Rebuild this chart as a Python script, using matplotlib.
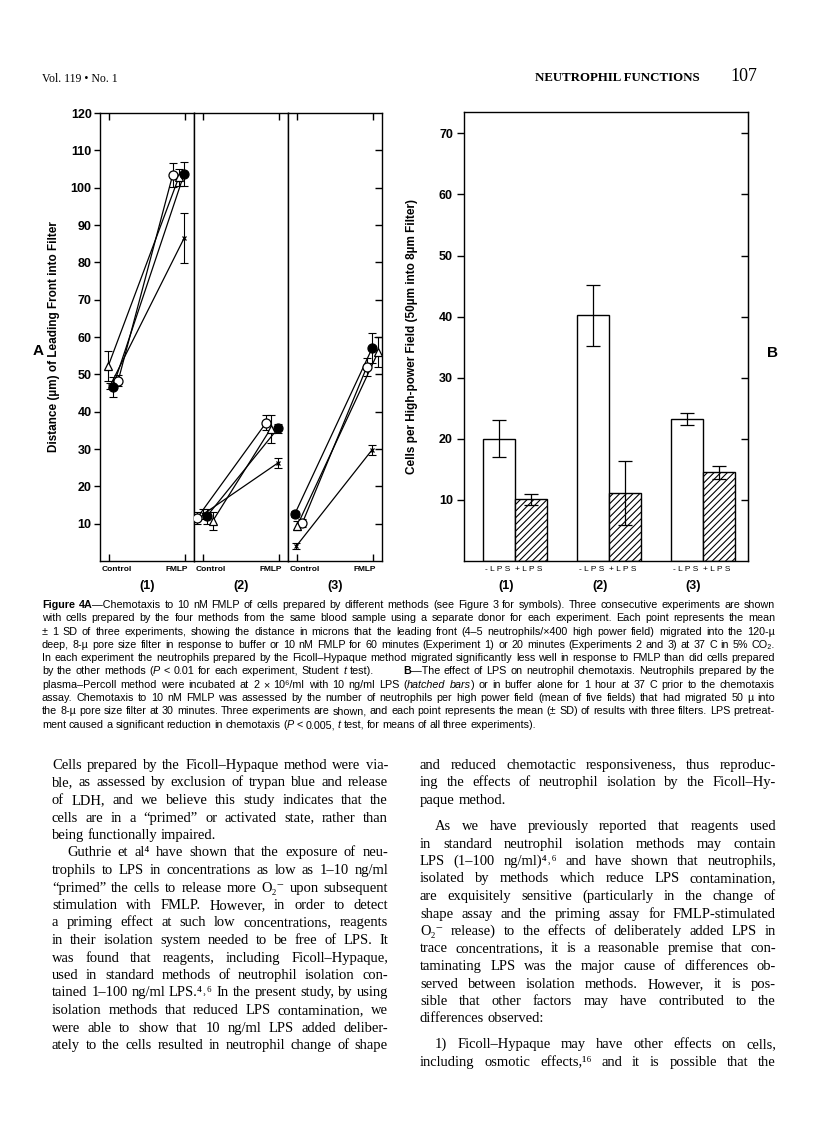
import re

import numpy as np
import matplotlib
matplotlib.use("Agg")
import matplotlib.pyplot as plt
import matplotlib.transforms as mtransforms

W, H = 816, 1145

# ---- panel A: distance (um) of leading front, 3 experiments ----
# series order: open circle, open triangle, filled circle, x  (see Figure 3)
ctrl_mean = [[48.3, 52.3, 46.6, 46.8], [11.5, 10.8, 12.0, 12.5], [10.2, 9.4, 12.6, 4.0]]
ctrl_sd = [[1.5, 4.0, 2.6, 0.8], [1.5, 2.4, 2.0, 1.3], [1.0, 1.2, 0.8, 0.8]]
fmlp_mean = [[103.5, 102.8, 103.7, 86.5], [37.0, 35.4, 35.6, 26.3], [52.0, 56.0, 57.0, 29.8]]
fmlp_sd = [[3.2, 2.3, 3.2, 6.8], [2.0, 3.8, 1.2, 1.3], [2.5, 4.0, 4.0, 1.4]]
# small horizontal shifts so symbols don't sit on top of each other
ctrl_shift = [[0.12, -0.01, 0.05, 0.01], [-0.08, 0.13, 0.05, 0.0], [0.07, 0.0, -0.03, -0.01]]
fmlp_shift = [[-0.16, -0.08, -0.01, -0.01], [-0.17, -0.11, -0.01, -0.01], [-0.08, 0.07, -0.01, -0.01]]
exp_labels = ["(1)", "(2)", "(3)"]

# ---- panel B: cells per high power field ----
groups = [1, 2, 3]
minus_lps = [20.0, 40.2, 23.3]
minus_sd = [3.0, 5.0, 1.0]
plus_lps = [10.1, 11.1, 14.5]
plus_sd = [0.9, 5.2, 1.0]

SANS = ["Liberation Sans", "DejaVu Sans"]
SERIF = ["Liberation Serif", "DejaVu Serif"]

plt.rcParams["hatch.linewidth"] = 0.8
plt.rcParams["font.family"] = SANS


def fx(x):
    return x / W


def fy(y):
    return 1 - y / H


def box(x0, y0, x1, y1):
    return [fx(x0), fy(y1), (x1 - x0) / W, (y1 - y0) / H]


fig = plt.figure(figsize=(W / 100, H / 100), dpi=100)
fig.patch.set_facecolor("white")

# ---------------- figure A ----------------
edges = [100, 194, 288, 382]
styles = [dict(marker="o", mfc="white", ms=6.5),
          dict(marker="^", mfc="white", ms=6),
          dict(marker="o", mfc="black", ms=6.5),
          dict(marker="x", mfc="black", ms=3.5)]

for p in range(3):
    ax = fig.add_axes(box(edges[p], 113, edges[p + 1], 561))
    ax.set_xlim(-0.12, 1.12)
    ax.set_ylim(0, 120)
    for s in ax.spines.values():
        s.set_linewidth(1.0)
    for k in range(4):
        xs = [0 + ctrl_shift[p][k], 1 + fmlp_shift[p][k]]
        ys = [ctrl_mean[p][k], fmlp_mean[p][k]]
        es = [ctrl_sd[p][k], fmlp_sd[p][k]]
        ax.plot(xs, ys, color="black", lw=0.9, zorder=2)
        ax.errorbar(xs, ys, yerr=es, fmt="none", ecolor="black", elinewidth=0.8,
                    capsize=3, capthick=0.8, zorder=3)
        ax.plot(xs, ys, ls="none", color="black", mec="black", mew=0.9, zorder=4, **styles[k])
    ax.set_xticks([0, 1])
    ax.tick_params(axis="x", which="both", direction="in", top=True, bottom=True,
                   labelbottom=False, length=5, width=1.0)
    if p == 0:
        ax.set_yticks(np.arange(10, 121, 10))
        ax.tick_params(axis="y", direction="out", length=4, width=1.0, pad=2,
                       labelsize=9)
        for lab in ax.get_yticklabels():
            lab.set_fontweight("bold")
        ax.set_ylabel("Distance (µm) of Leading Front into Filter", fontsize=8.5,
                      fontweight="bold", labelpad=8)
    elif p == 1:
        ax.set_yticks([])
    else:
        ax.set_yticks(np.arange(10, 111, 10))
        ax.tick_params(axis="y", left=False, right=True, labelleft=False,
                       direction="in", length=5, width=1.0)
    tr = mtransforms.blended_transform_factory(ax.transData, ax.transAxes)
    ax.text(0.105, -0.018, "Control", transform=tr, ha="center", va="center",
            fontsize=6, fontweight="bold")
    ax.text(0.895, -0.018, "FMLP", transform=tr, ha="center", va="center",
            fontsize=6, fontweight="bold")
    ax.text(0.5, -0.056, exp_labels[p], transform=tr, ha="center", va="center",
            fontsize=9, fontweight="bold")

# ---------------- figure B ----------------
axb = fig.add_axes(box(464, 112, 748, 561))
axb.set_xlim(0.457, 3.479)
axb.set_ylim(0, 73.5)
for s in axb.spines.values():
    s.set_linewidth(1.0)
bw = 0.34
xm = [g - bw / 2 for g in groups]
xp = [g + bw / 2 for g in groups]
axb.bar(xm, minus_lps, width=bw, color="white", edgecolor="black", lw=1.0)
axb.bar(xp, plus_lps, width=bw, color="white", edgecolor="black", lw=1.0, hatch="/////")
axb.errorbar(xm, minus_lps, yerr=minus_sd, fmt="none", ecolor="black", elinewidth=0.9,
             capsize=5, capthick=0.9)
axb.errorbar(xp, plus_lps, yerr=plus_sd, fmt="none", ecolor="black", elinewidth=0.9,
             capsize=5, capthick=0.9)
axb.set_xticks([])
axb.set_yticks(np.arange(10, 71, 10))
axb.tick_params(axis="y", direction="out", length=5, width=1.0, pad=3, labelsize=9)
for lab in axb.get_yticklabels():
    lab.set_fontweight("bold")
axb.set_ylabel("Cells per High-power Field (50µm into 8µm Filter)", fontsize=8.5,
               fontweight="bold", labelpad=15)
axr = axb.secondary_yaxis("right")
axr.set_yticks(np.arange(10, 71, 10))
axr.tick_params(direction="in", length=5, width=1.0, labelright=False)
trb = mtransforms.blended_transform_factory(axb.transData, axb.transAxes)
for i, g in enumerate(groups):
    axb.text(xm[i] - 0.02, -0.018, "- L P S", transform=trb, ha="center", va="center", fontsize=6)
    axb.text(xp[i] - 0.02, -0.018, "+ L P S", transform=trb, ha="center", va="center", fontsize=6)
    axb.text(g - 0.1, -0.056, exp_labels[i], transform=trb, ha="center", va="center",
             fontsize=9, fontweight="bold")

fig.text(fx(38), fy(351), "A", fontsize=11, fontweight="bold", ha="center", va="center")
fig.text(fx(773), fy(353), "B", fontsize=11, fontweight="bold", ha="center", va="center")

# ---------------- page text ----------------
fig.text(fx(42), fy(82), "Vol. 119 • No. 1", family=SERIF, fontsize=8.5, va="baseline")
fig.text(fx(535), fy(81), "NEUTROPHIL FUNCTIONS", family=SERIF, fontsize=9.3,
         fontweight="bold", va="baseline")
fig.text(fx(730), fy(81), "107", family=SERIF, fontsize=13, va="baseline")

TOK = re.compile(r"\[(b|i)\](.*?)\[/\]")
renderer = fig.canvas.get_renderer()


def parse_word(w):
    segs = []
    pos = 0
    for m in TOK.finditer(w):
        if m.start() > pos:
            segs.append((w[pos:m.start()], ""))
        segs.append((m.group(2), m.group(1)))
        pos = m.end()
    if pos < len(w):
        segs.append((w[pos:], ""))
    return segs


def natural_width(line, size, family):
    plain = TOK.sub(lambda m: m.group(2), line).replace(" ~ ", "      ")
    t = fig.text(0, 0, plain, fontsize=size, family=family)
    wd = t.get_window_extent(renderer).width
    t.remove()
    return wd


def fit_size(lines, x0, x1, base, family):
    # largest font size at which every justified line still fits
    ratio = 0
    for line, just, ind in lines:
        if just:
            ratio = max(ratio, natural_width(line, base, family) / (x1 - x0 - ind))
    return base / ratio * 0.99


def put_line(line, x0, x1, y, size, family, justify=True, indent=0):
    # whole-pixel baseline (+0.1) keeps every word on the same pixel row
    y = int(round(y)) + 0.1
    words = [w for w in line.split(" ") if w]
    built = []
    for w in words:
        if w == "~":
            built.append(([], 22.0))
            continue
        arts = []
        wsum = 0.0
        for txt, st in parse_word(w):
            t = fig.text(0, fy(y), txt, fontsize=size, family=family,
                         fontweight="bold" if st == "b" else "normal",
                         fontstyle="italic" if st == "i" else "normal",
                         ha="left", va="baseline")
            arts.append((t, wsum))
            wsum += t.get_window_extent(renderer).width
        built.append((arts, wsum))
    total = sum(b[1] for b in built)
    start = x0 + indent
    if justify and len(built) > 1:
        gap = max((x1 - start - total) / (len(built) - 1), 1.5)
    else:
        gap = size * 100 / 72 * 0.25
    x = start
    for arts, wd in built:
        for t, off in arts:
            t.set_x(fx(x + off))
        x += wd + gap


caption = [
    "[b]Figure[/] [b]4A[/]—Chemotaxis to 10 nM FMLP of cells prepared by different methods (see Figure 3 for symbols). Three consecutive experiments are shown",
    "with cells prepared by the four methods from the same blood sample using a separate donor for each experiment. Each point represents the mean",
    "± 1 SD of three experiments, showing the distance in microns that the leading front (4–5 neutrophils/×400 high power field) migrated into the 120-µ",
    "deep, 8-µ pore size filter in response to buffer or 10 nM FMLP for 60 minutes (Experiment 1) or 20 minutes (Experiments 2 and 3) at 37 C in 5% CO₂.",
    "In each experiment the neutrophils prepared by the Ficoll–Hypaque method migrated significantly less well in response to FMLP than did cells prepared",
    "by the other methods ([i]P[/] < 0.01 for each experiment, Student [i]t[/] test). ~ [b]B[/]—The effect of LPS on neutrophil chemotaxis. Neutrophils prepared by the",
    "plasma–Percoll method were incubated at 2 × 10⁶/ml with 10 ng/ml LPS ([i]hatched[/] [i]bars[/]) or in buffer alone for 1 hour at 37 C prior to the chemotaxis",
    "assay. Chemotaxis to 10 nM FMLP was assessed by the number of neutrophils per high power field (mean of five fields) that had migrated 50 µ into",
    "the 8-µ pore size filter at 30 minutes. Three experiments are shown, and each point represents the mean (± SD) of results with three filters. LPS pretreat-",
    "ment caused a significant reduction in chemotaxis ([i]P[/] < 0.005, [i]t[/] test, for means of all three experiments).",
]
cap_lines = [(c, i < len(caption) - 1, 0) for i, c in enumerate(caption)]
cap_size = fit_size(cap_lines, 42, 775, 7.0, SANS)
for i, (line, just, ind) in enumerate(cap_lines):
    put_line(line, 42, 775, 608 + 13.3 * i, cap_size, SANS, justify=just)

left_col = [
    ("Cells prepared by the Ficoll–Hypaque method were via-", True, 0),
    ("ble, as assessed by exclusion of trypan blue and release", True, 0),
    ("of LDH, and we believe this study indicates that the", True, 0),
    ("cells are in a “primed” or activated state, rather than", True, 0),
    ("being functionally impaired.", False, 0),
    ("Guthrie et al⁴ have shown that the exposure of neu-", True, 15),
    ("trophils to LPS in concentrations as low as 1–10 ng/ml", True, 0),
    ("“primed” the cells to release more O₂⁻ upon subsequent", True, 0),
    ("stimulation with FMLP. However, in order to detect", True, 0),
    ("a priming effect at such low concentrations, reagents", True, 0),
    ("in their isolation system needed to be free of LPS. It", True, 0),
    ("was found that reagents, including Ficoll–Hypaque,", True, 0),
    ("used in standard methods of neutrophil isolation con-", True, 0),
    ("tained 1–100 ng/ml LPS.⁴˒⁶ In the present study, by using", True, 0),
    ("isolation methods that reduced LPS contamination, we", True, 0),
    ("were able to show that 10 ng/ml LPS added deliber-", True, 0),
    ("ately to the cells resulted in neutrophil change of shape", True, 0),
]

right_col = [
    ("and reduced chemotactic responsiveness, thus reproduc-", True, 0),
    ("ing the effects of neutrophil isolation by the Ficoll–Hy-", True, 0),
    ("paque method.", False, 0),
    ("As we have previously reported that reagents used", True, 15),
    ("in standard neutrophil isolation methods may contain", True, 0),
    ("LPS (1–100 ng/ml)⁴˒⁶ and have shown that neutrophils,", True, 0),
    ("isolated by methods which reduce LPS contamination,", True, 0),
    ("are exquisitely sensitive (particularly in the change of", True, 0),
    ("shape assay and the priming assay for FMLP-stimulated", True, 0),
    ("O₂⁻ release) to the effects of deliberately added LPS in", True, 0),
    ("trace concentrations, it is a reasonable premise that con-", True, 0),
    ("taminating LPS was the major cause of differences ob-", True, 0),
    ("served between isolation methods. However, it is pos-", True, 0),
    ("sible that other factors may have contributed to the", True, 0),
    ("differences observed:", False, 0),
    ("1) Ficoll–Hypaque may have other effects on cells,", True, 15),
    ("including osmotic effects,¹⁶ and it is possible that the", True, 0),
]
body_size = min(fit_size(left_col, 52, 388, 10.0, SERIF),
                fit_size(right_col, 420, 776, 10.0, SERIF))

for i, (line, just, ind) in enumerate(left_col):
    put_line(line, 52, 388, 769 + 17.5 * i, body_size, SERIF, justify=just, indent=ind)

for i, (line, just, ind) in enumerate(right_col):
    if i < 3:
        y = 769 + 17.5 * i
    elif i < 15:
        y = 830 + 17.5 * (i - 3)
    else:
        y = 1048 + 17.5 * (i - 15)
    put_line(line, 420, 776, y, body_size, SERIF, justify=just, indent=ind)

fig.savefig("out.png", dpi=100, facecolor="white")
